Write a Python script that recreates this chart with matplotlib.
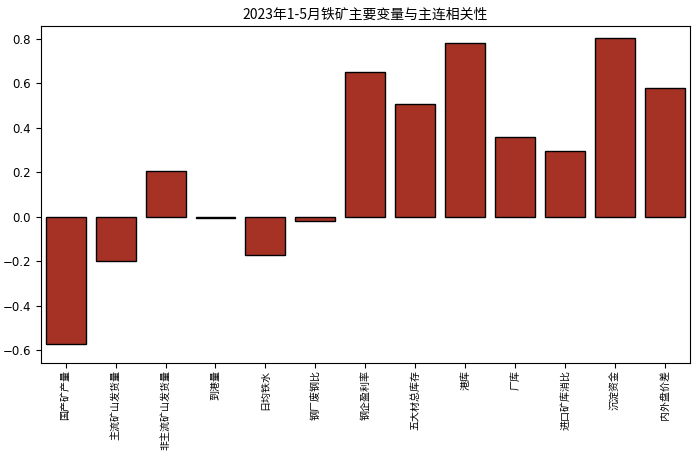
import numpy as np
import matplotlib.pyplot as plt

plt.rcParams['font.family'] = ['Noto Sans CJK SC', 'DejaVu Sans']

# 变量与相关系数
labels = ['国产矿产量', '主流矿山发货量', '非主流矿山发货量', '到港量', '日均铁水',
          '钢厂废钢比', '钢企盈利率', '五大材总库存', '港库', '厂库',
          '进口矿库消比', '沉淀资金', '内外盘价差']
corr = [-0.571, -0.198, 0.207, -0.005, -0.171, -0.018, 0.652,
        0.508, 0.782, 0.36, 0.297, 0.805, 0.58]

fig = plt.figure(figsize=(7, 4.55), dpi=100)
ax = fig.add_axes([0.058, 0.203, 0.928, 0.74])
x = np.arange(len(labels))
ax.bar(x, corr, width=0.8, color='#a63225', edgecolor='black', linewidth=1)
ax.set_xticks(x)
ax.set_xticklabels(labels, rotation=90, fontsize=7.2)
ax.set_xlim(-0.5, len(labels) - 0.5)
ax.set_ylim(-0.656, 0.858)
ax.set_yticks([-0.6, -0.4, -0.2, 0.0, 0.2, 0.4, 0.6, 0.8])
for t in ax.get_yticklabels():
    t.set_family('DejaVu Sans')
ax.tick_params(axis='y', labelsize=8.5)
ax.tick_params(axis='x', pad=2)
ax.set_title('2023年1-5月铁矿主要变量与主连相关性', fontsize=10, pad=5)

fig.savefig('out.png')
